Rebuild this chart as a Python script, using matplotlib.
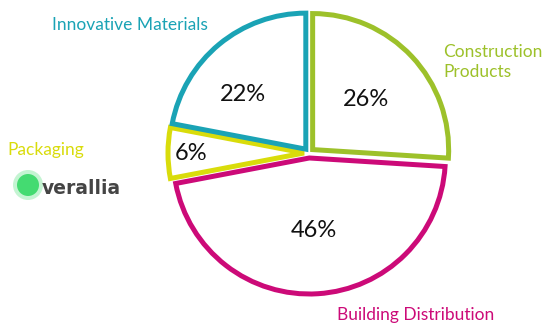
import matplotlib
matplotlib.use("Agg")
import numpy as np
from matplotlib import pyplot as plt
from matplotlib.patches import Circle

labels = ["Construction\nProducts", "Building Distribution", "Packaging", "Innovative Materials"]
shares = [26, 46, 6, 22]
colors = ["#9dc12a", "#cc0a78", "#d9dc0b", "#1aa3b5"]
pct_dist = [0.57, 0.57, 0.87, 0.65]
pct_nudge = [0, 0, 0, 9]  # degrees

W, H = 544, 325
fig = plt.figure(figsize=(W / 100, H / 100), dpi=100)
ax = fig.add_axes([0, 0, 1, 1])

cx, cy, R = 309, H - 153, 136
# explode is in data units here (pixels)
wedges, _, autotexts = ax.pie(
    shares, center=(cx, cy), radius=R, startangle=90, counterclock=False,
    explode=[5] * 4, autopct="%d%%", frame=True,
    wedgeprops=dict(facecolor="white", linewidth=3.6, joinstyle="miter"),
    textprops=dict(fontsize=17, color="#111111", family="Lato"))
for w, c in zip(wedges, colors):
    w.set_edgecolor(c)

# move percentages to their own spots
ang = 90.0
for t, s, d, n in zip(autotexts, shares, pct_dist, pct_nudge):
    mid = np.deg2rad(ang - s * 3.6 / 2 + n)
    t.set_position((cx + np.cos(mid) * R * d, cy + np.sin(mid) * R * d))
    ang -= s * 3.6

ax.set_xlim(0, W)
ax.set_ylim(0, H)
ax.set_aspect("equal")
ax.axis("off")

fs = 12.5
lab = dict(fontsize=fs, family="Lato", va="center")
ax.text(52, H - 25, labels[3], color=colors[3], **lab)
ax.text(443, H - 62, labels[0], color=colors[0], linespacing=1.35, **lab)
ax.text(7, H - 150, labels[2], color=colors[2], **lab)
ax.text(337, H - 315, labels[1], color=colors[1], **lab)

# verallia logo
ax.add_patch(Circle((28, H - 185), 15, color="#3ddc6a", alpha=0.3, lw=0))
ax.add_patch(Circle((28, H - 185), 11, color="#2ed760", alpha=0.85, lw=0))
ax.text(42, H - 188, "verallia", color="#444444", fontsize=13.5, family="DejaVu Sans",
        fontweight="bold", va="center")

fig.savefig("out.png", dpi=100)
